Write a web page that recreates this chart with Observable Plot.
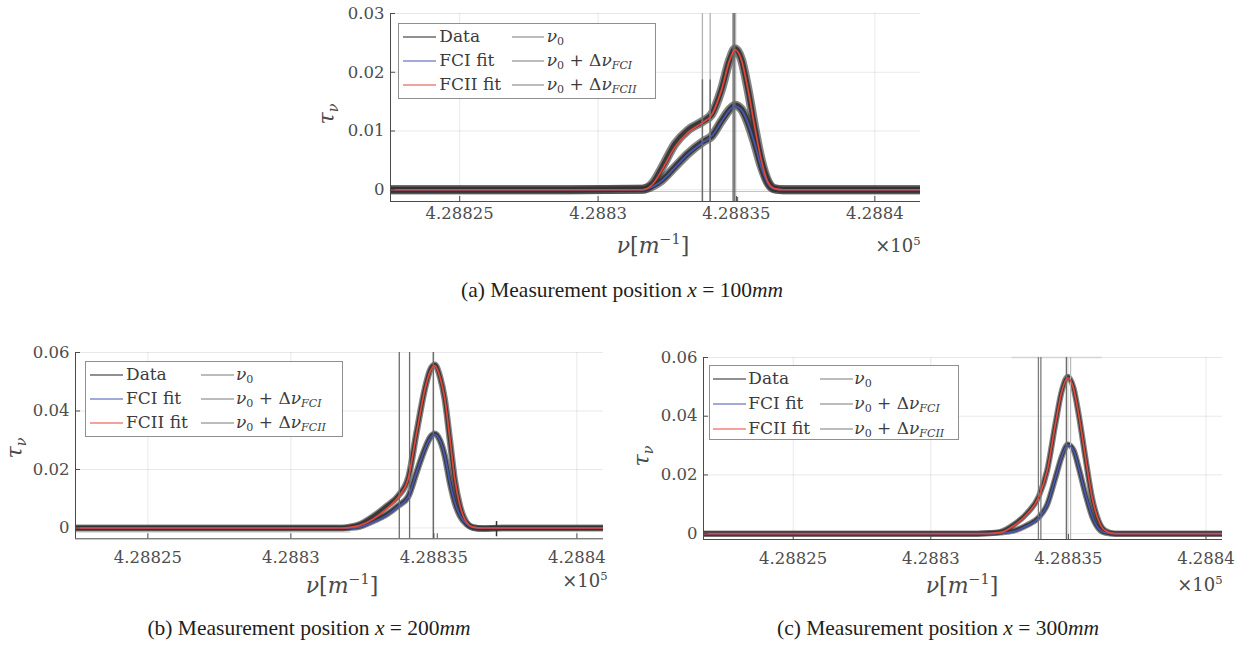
<!DOCTYPE html>
<html>
<head>
<meta charset="utf-8">
<script src="https://cdn.jsdelivr.net/npm/d3@7"></script>
<script src="https://cdn.jsdelivr.net/npm/@observablehq/plot@0.6"></script>
<style>
html,body{margin:0;padding:0;background:#fff;}
#fig{position:relative;width:1252px;height:646px;overflow:hidden;background:#fff;}
.panel{position:absolute;}
.panel svg{overflow:visible;}
.t{position:absolute;white-space:nowrap;line-height:1;font-family:"DejaVu Serif",serif;color:#4a4a4a;transform:translate(-50%,-50%);z-index:4;}
.t sup{font-size:65%;vertical-align:0.6em;line-height:0;}
.t sub{font-size:65%;vertical-align:-0.3em;line-height:0;}
.cap{position:absolute;white-space:nowrap;line-height:1;font-family:"Liberation Serif",serif;font-size:21.5px;color:#1e1e1e;transform:translateX(-50%);}
.leg{position:absolute;box-sizing:border-box;border:1px solid #8f8f8f;background:#fff;z-index:5;}
.leg .ln{position:absolute;height:0;border-top:1.3px solid #222;transform:translateY(-50%);}
.leg .lb{position:absolute;white-space:nowrap;line-height:1;font-family:"DejaVu Serif",serif;font-size:17px;color:#3c3c3c;transform:translateY(-55%);}
.leg sub{font-size:65%;vertical-align:-0.3em;line-height:0;}
</style>
</head>
<body>
<div id="fig"></div>
<script>
// ---------- shared axis data ----------
const xTicks = [428825, 428830, 428835, 428840];
const xTickLabels = ["4.28825", "4.2883", "4.28835", "4.2884"];
const yTicksA = [0, 0.01, 0.02, 0.03];
const yTickLabelsA = ["0", "0.01", "0.02", "0.03"];
const yTicksBC = [0, 0.02, 0.04, 0.06];
const yTickLabelsBC = ["0", "0.02", "0.04", "0.06"];

// ---------- panel (a) x = 100 mm ----------
const nuA    = [428822.5, 428829, 428831.6, 428832.0, 428832.3, 428832.78, 428833.26, 428833.8, 428834.1, 428834.46, 428834.76, 428834.95, 428835.18, 428835.42, 428835.66, 428835.9, 428836.14, 428836.38, 428836.7, 428838, 428841.65];
const fciA   = [0, 0, 0, 0.0006, 0.0015, 0.0038, 0.0061, 0.0081, 0.0091, 0.0116, 0.0136, 0.0142, 0.0136, 0.0113, 0.0078, 0.0038, 0.0010, 0.0001, 0, 0, 0];
const fciiA  = [0, 0, 0, 0.0011, 0.0033, 0.0073, 0.0098, 0.0115, 0.0127, 0.0170, 0.0221, 0.0238, 0.0221, 0.0170, 0.0107, 0.0050, 0.0013, 0.0002, 0, 0, 0];
const dataA1 = [0, 0, 0.0001, 0.0007, 0.0016, 0.0039, 0.0062, 0.0082, 0.0091, 0.0117, 0.0137, 0.0144, 0.0137, 0.0113, 0.0078, 0.0039, 0.0011, 0.0001, 0, 0, 0];
const dataA2 = [0, 0, 0.0001, 0.0013, 0.0037, 0.0078, 0.0102, 0.0117, 0.0128, 0.0171, 0.0222, 0.0240, 0.0222, 0.0170, 0.0106, 0.0050, 0.0014, 0.0002, 0, 0, 0];
const vFullA = [428833.77, 428834.05];
const vSegTopA = [0.0187, 0.0187];
const nu0A = [428834.88, 428834.94];
const stubA = [428835.04];
const stubTopA = [-0.0013];
const ghostA = {y: -0.0003, from: 428831.3};

// ---------- panel (b) x = 200 mm ----------
const nuB    = [428822.47, 428829, 428831.8, 428832.06, 428832.41, 428832.88, 428833.35, 428833.75, 428834.1, 428834.4, 428834.69, 428834.86, 428835.03, 428835.21, 428835.38, 428835.56, 428835.73, 428835.91, 428836.14, 428836.37, 428836.7, 428837.4, 428840.93];
const fciB   = [0, 0, 0, 0, 0.0003, 0.0020, 0.0043, 0.0073, 0.0105, 0.0191, 0.0271, 0.0305, 0.0319, 0.0299, 0.0248, 0.0157, 0.0088, 0.0043, 0.0014, 0.0002, 0, 0, 0];
const fciiB  = [0, 0, 0, 0.0002, 0.0009, 0.0031, 0.0066, 0.0105, 0.0168, 0.0328, 0.0476, 0.0533, 0.0555, 0.0516, 0.0442, 0.0305, 0.0168, 0.0077, 0.0020, 0.0003, 0, 0, 0];
const dataB1 = [0, 0, 0, 0.0001, 0.0005, 0.0024, 0.0047, 0.0076, 0.0107, 0.0192, 0.0272, 0.0308, 0.0322, 0.0300, 0.0247, 0.0155, 0.0087, 0.0042, 0.0013, 0.0001, -0.0002, 0, 0];
const dataB2 = [0, 0, 0, 0.0004, 0.0013, 0.0040, 0.0075, 0.0110, 0.0170, 0.0330, 0.0478, 0.0538, 0.0558, 0.0518, 0.0440, 0.0300, 0.0165, 0.0076, 0.0019, 0.0002, -0.0002, 0, 0];
const vFullB = [428833.79, 428834.15];
const nu0B = [428834.98];
const stubB = [428835.12];
const stubTopB = [-0.0020];
const spikeNuB = [428837.19];
const spikeLoB = [-0.0030];
const spikeHiB = [0.0022];
const ghostB = {y: -0.0014, to: 428832.1};

// ---------- panel (c) x = 300 mm ----------
const nuC    = [428821.74, 428829, 428831.7, 428832.05, 428832.53, 428833.01, 428833.5, 428833.92, 428834.23, 428834.53, 428834.77, 428834.98, 428835.19, 428835.37, 428835.62, 428835.86, 428836.1, 428836.34, 428836.7, 428838, 428840.6];
const fciC   = [0, 0, 0, 0, 0.0002, 0.0007, 0.0027, 0.0053, 0.0098, 0.0190, 0.0265, 0.0302, 0.0283, 0.0226, 0.0135, 0.0060, 0.0017, 0.0003, 0, 0, 0];
const fciiC  = [0, 0, 0, 0, 0.0004, 0.0027, 0.0067, 0.0124, 0.0215, 0.0374, 0.0488, 0.0531, 0.0493, 0.0408, 0.0260, 0.0124, 0.0044, 0.0010, 0, 0, 0];
const dataC1 = [0, 0, 0, 0.0001, 0.0004, 0.0010, 0.0029, 0.0055, 0.0099, 0.0191, 0.0266, 0.0304, 0.0284, 0.0226, 0.0134, 0.0059, 0.0017, 0.0003, 0, 0, 0];
const dataC2 = [0, 0, 0, 0.0001, 0.0006, 0.0030, 0.0070, 0.0126, 0.0216, 0.0375, 0.0490, 0.0534, 0.0495, 0.0408, 0.0258, 0.0122, 0.0043, 0.0010, 0, 0, 0];
const vFullC = [428833.91, 428834.0];
const nu0C = [428834.93];
const lightC = [428835.08];
const ghostC = {from: 428832.95, to: 428836.23};

// ---------- legend & captions ----------
const legendCol1 = ["Data", "FCI fit", "FCII fit"];
const legendCol2 = ["<i>ν</i><sub>0</sub>",
  "<i>ν</i><sub>0</sub> + Δ<i>ν</i><sub><i>FCI</i></sub>",
  "<i>ν</i><sub>0</sub> + Δ<i>ν</i><sub><i>FCII</i></sub>"];
const captions = ["(a) Measurement position <i>x</i> = 100<i>mm</i>",
  "(b) Measurement position <i>x</i> = 200<i>mm</i>",
  "(c) Measurement position <i>x</i> = 300<i>mm</i>"];

const BLUE = "#4657b5", RED = "#e6463a", DATA = "#333333", VL = "#6c6c6c";
const fig = document.getElementById("fig");

function panel(cfg) {
  const rows = cfg.nu.map((n, i) => ({nu: n, fci: cfg.fci[i], fcii: cfg.fcii[i], d1: cfg.d1[i], d2: cfg.d2[i]}));
  const y0 = cfg.yDomain[0];
  const marks = [
    Plot.gridX(xTicks, {stroke: "#000", strokeOpacity: 0.09}),
    Plot.gridY(cfg.yTicks, {stroke: "#000", strokeOpacity: 0.09}),
    ...cfg.ghosts(y0),
    Plot.line(rows, {x: "nu", y: "d1", stroke: DATA, strokeOpacity: 0.6, strokeWidth: cfg.dw, curve: "monotone-x", clip: true}),
    Plot.line(rows, {x: "nu", y: "d2", stroke: DATA, strokeOpacity: 0.6, strokeWidth: cfg.dw, curve: "monotone-x", clip: true}),
    Plot.line(rows, {x: "nu", y: "d1", stroke: DATA, strokeOpacity: 0.92, strokeWidth: cfg.dw * 0.6, curve: "monotone-x", clip: true}),
    Plot.line(rows, {x: "nu", y: "d2", stroke: DATA, strokeOpacity: 0.92, strokeWidth: cfg.dw * 0.6, curve: "monotone-x", clip: true}),
    ...cfg.extra(y0),
    Plot.line(rows, {x: "nu", y: "fci", stroke: BLUE, strokeWidth: 1.7, curve: "monotone-x", clip: true}),
    Plot.line(rows, {x: "nu", y: "fcii", stroke: RED, strokeWidth: 1.7, curve: "monotone-x", clip: true}),
    Plot.ruleX([cfg.xDomain[0]], {stroke: "#4a4a4a", strokeWidth: 1}),
    Plot.ruleY([y0], {stroke: "#4a4a4a", strokeWidth: 1}),
    Plot.axisX({ticks: xTicks, tickSize: 5, tickPadding: cfg.xPad, label: null,
      tickFormat: d => xTickLabels[xTicks.indexOf(d)]}),
    Plot.axisY({ticks: cfg.yTicks, tickSize: 5, tickPadding: 1, label: null,
      tickFormat: d => cfg.yLabels[cfg.yTicks.indexOf(d)]})
  ];
  const svg = Plot.plot({
    width: cfg.w, height: cfg.h,
    marginLeft: cfg.mL, marginRight: cfg.mR, marginTop: cfg.mT, marginBottom: cfg.mB,
    x: {domain: cfg.xDomain, label: null},
    y: {domain: cfg.yDomain, label: null},
    style: {fontFamily: '"DejaVu Serif", serif', fontSize: "16.5px", color: "#4d4d4d", background: "transparent", overflow: "visible"},
    marks
  });
  d3.select(svg).selectAll('g[aria-label="x-axis tick"] path').attr("d", "M0,0L0,-5");
  d3.select(svg).selectAll('g[aria-label="y-axis tick"] path').attr("d", "M0,0L5,0");
  const div = document.createElement("div");
  div.className = "panel";
  div.style.left = cfg.left + "px";
  div.style.top = cfg.top + "px";
  div.appendChild(svg);
  fig.appendChild(div);
}

function text(html, x, y, size, extraStyle = "") {
  const d = document.createElement("div");
  d.className = "t";
  d.style.left = x + "px"; d.style.top = y + "px"; d.style.fontSize = size + "px";
  d.style.cssText += extraStyle;
  d.innerHTML = html;
  fig.appendChild(d);
}

function legend(box, rowsY, c1, c2) {
  const L = document.createElement("div");
  L.className = "leg";
  L.style.left = box[0] + "px"; L.style.top = box[1] + "px";
  L.style.width = box[2] + "px"; L.style.height = box[3] + "px";
  const colors = ["#222", BLUE, RED];
  rowsY.forEach((ry, i) => {
    const a = document.createElement("div"); a.className = "ln";
    a.style.left = c1[0] + "px"; a.style.width = (c1[1] - c1[0]) + "px"; a.style.top = ry + "px";
    a.style.borderColor = colors[i]; L.appendChild(a);
    const b = document.createElement("div"); b.className = "lb";
    b.style.left = c1[2] + "px"; b.style.top = ry + "px"; b.innerHTML = legendCol1[i]; L.appendChild(b);
    const c = document.createElement("div"); c.className = "ln";
    c.style.left = c2[0] + "px"; c.style.width = (c2[1] - c2[0]) + "px"; c.style.top = ry + "px";
    c.style.borderColor = "#7a7a7a"; L.appendChild(c);
    const e = document.createElement("div"); e.className = "lb";
    e.style.left = c2[2] + "px"; e.style.top = ry + "px"; e.innerHTML = legendCol2[i]; L.appendChild(e);
  });
  fig.appendChild(L);
}

function caption(html, cx, top) {
  const d = document.createElement("div");
  d.className = "cap"; d.style.left = cx + "px"; d.style.top = top + "px";
  d.innerHTML = html; fig.appendChild(d);
}

// panel (a)
panel({
  left: 300, top: 0, w: 640, h: 280, mL: 90, mR: 20, mT: 13, mB: 79,
  xDomain: [428822.5, 428841.65], yDomain: [-0.002, 0.03],
  yTicks: yTicksA, yLabels: yTickLabelsA, xPad: 1, dw: 9,
  nu: nuA, fci: fciA, fcii: fciiA, d1: dataA1, d2: dataA2,
  ghosts: () => [
    Plot.ruleY([ghostA.y], {x1: ghostA.from, x2: 428841.65, stroke: "#c4c4c4", strokeWidth: 1})
  ],
  extra: (y0) => [
    Plot.ruleX(vFullA, {stroke: "#b2b2b2", strokeWidth: 1.3}),
    Plot.ruleX(vFullA.map((v, i) => ({v, t: vSegTopA[i]})), {x: "v", y1: y0, y2: "t", stroke: VL, strokeWidth: 1.4}),
    Plot.ruleX(nu0A, {stroke: VL, strokeWidth: 1.4}),
    Plot.ruleX(stubA.map((v, i) => ({v, t: stubTopA[i]})), {x: "v", y1: y0, y2: "t", stroke: VL, strokeWidth: 1.2})
  ]
});
// panel (b)
panel({
  left: 0, top: 330, w: 620, h: 260, mL: 75, mR: 17, mT: 22, mB: 51.7,
  xDomain: [428822.47, 428840.93], yDomain: [-0.0037, 0.06],
  yTicks: yTicksBC, yLabels: yTickLabelsBC, xPad: 7, dw: 6.5,
  nu: nuB, fci: fciB, fcii: fciiB, d1: dataB1, d2: dataB2,
  ghosts: () => [
    Plot.ruleY([ghostB.y], {x1: 428822.47, x2: ghostB.to, stroke: "#c8c8c8", strokeWidth: 1})
  ],
  extra: (y0) => [
    Plot.ruleX(spikeNuB.map((v, i) => ({v, lo: spikeLoB[i], hi: spikeHiB[i]})), {x: "v", y1: "lo", y2: "hi", stroke: DATA, strokeWidth: 1.5}),
    Plot.ruleX(vFullB, {stroke: VL, strokeWidth: 1.3}),
    Plot.ruleX(nu0B, {stroke: VL, strokeWidth: 1.5}),
    Plot.ruleX(stubB.map((v, i) => ({v, t: stubTopB[i]})), {x: "v", y1: y0, y2: "t", stroke: VL, strokeWidth: 1.2})
  ]
});
// panel (c)
panel({
  left: 630, top: 330, w: 622, h: 260, mL: 73, mR: 30, mT: 27, mB: 51,
  xDomain: [428821.74, 428840.6], yDomain: [-0.002, 0.06],
  yTicks: yTicksBC, yLabels: yTickLabelsBC, xPad: 8, dw: 6,
  nu: nuC, fci: fciC, fcii: fciiC, d1: dataC1, d2: dataC2,
  ghosts: () => [
    Plot.ruleY([0.06], {x1: ghostC.from, x2: ghostC.to, stroke: "#d4d4d4", strokeWidth: 1.5})
  ],
  extra: () => [
    Plot.ruleX(vFullC, {stroke: "#7c7c7c", strokeWidth: 1.3}),
    Plot.ruleX(nu0C, {stroke: VL, strokeWidth: 1.5}),
    Plot.ruleX(lightC, {stroke: "#b8b8b8", strokeWidth: 1.2})
  ]
});

// axis titles
const nuLabel = "<i>ν</i>[<i>m</i><sup>−1</sup>]";
const tauLabel = "<i>τ</i><sub><i>ν</i></sub>";
const exp5 = "×10<sup>5</sup>";
text(nuLabel, 653, 246, 22);
text(exp5, 898, 246, 18);
text(tauLabel, 327, 114, 22, "transform:translate(-50%,-50%) rotate(-90deg);");
text(nuLabel, 342, 586, 22);
text(exp5, 585, 581, 18);
text(tauLabel, 15, 448, 22, "transform:translate(-50%,-50%) rotate(-90deg);");
text(nuLabel, 962, 586, 22);
text(exp5, 1200, 585, 18);
text(tauLabel, 642, 456, 22, "transform:translate(-50%,-50%) rotate(-90deg);");

// legends: box [left, top, width, height], row centers, col1 [line x0, x1, text x], col2 [...]
legend([398, 23, 258, 76], [12.7, 37, 61], [3.7, 37, 40.3], [113, 145, 147.7]);
legend([85, 361, 258, 76], [13, 37.3, 60.7], [4, 37, 40], [115, 148, 150]);
legend([709, 365, 250, 75], [13.3, 37.7, 62.7], [2.7, 36, 38.3], [110, 142.7, 144.3]);

caption(captions[0], 622, 280);
caption(captions[1], 309, 618);
caption(captions[2], 938, 618);
</script>
</body>
</html>
